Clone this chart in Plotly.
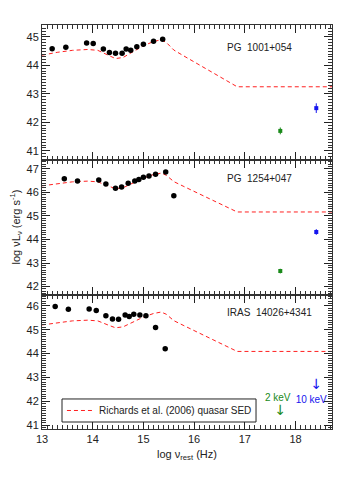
import plotly.graph_objects as go

# ---------------- data ----------------
# Richards et al. (2006) mean quasar SED template (relative to value at log nu = 13)
sed_lognu = [13.0, 13.3, 13.6, 13.9, 14.1, 14.3, 14.45, 14.6, 14.8, 15.0, 15.2, 15.35, 15.45, 15.6, 15.8, 16.2, 16.6, 16.85, 18.72]
sed_rel   = [0.0, 0.10, 0.17, 0.20, 0.17, 0.00, -0.12, -0.08, 0.12, 0.33, 0.48, 0.54, 0.45, 0.18, -0.03, -0.45, -0.87, -1.11, -1.11]
sed_norm  = [44.36, 46.28, 45.20]   # normalisation per panel

names = ["PG  1001+054", "PG  1254+047", "IRAS  14026+4341"]

p1_x = [13.20, 13.47, 13.88, 14.01, 14.21, 14.33, 14.45, 14.58, 14.66, 14.75, 14.87, 15.00, 15.20, 15.38]
p1_y = [44.59, 44.64, 44.79, 44.77, 44.58, 44.45, 44.43, 44.43, 44.58, 44.53, 44.66, 44.74, 44.85, 44.92]

p2_x = [13.44, 13.70, 14.12, 14.26, 14.45, 14.57, 14.70, 14.83, 14.91, 15.00, 15.11, 15.24, 15.44, 15.60]
p2_y = [46.58, 46.49, 46.53, 46.36, 46.18, 46.23, 46.39, 46.49, 46.55, 46.65, 46.70, 46.77, 46.87, 45.86]

p3_x = [13.26, 13.52, 13.93, 14.07, 14.26, 14.39, 14.51, 14.64, 14.72, 14.81, 14.93, 15.05, 15.24, 15.43]
p3_y = [45.97, 45.86, 45.87, 45.80, 45.59, 45.45, 45.44, 45.62, 45.55, 45.65, 45.62, 45.58, 45.09, 44.20]

# X-ray: 2 keV (green) and 10 keV (blue)
xray_x = [17.70, 18.41]
p1_xray_y   = [41.70, 42.50]
p1_xray_err = [0.12, 0.17]
p2_xray_y   = [42.66, 44.32]
p2_xray_err = [0.10, 0.12]
# panel 3: upper limits (arrow midpoints)
p3_ul_y = [41.59, 42.65]
xray_labels = ["2 keV", "10 keV"]
xray_label_y = [42.11, 42.03]
xray_label_x = [17.65, 18.31]

yranges = [[40.68, 45.42], [41.65, 47.38], [40.84, 46.46]]
title_y = [44.62, 46.60, 45.72]
legend_label = "Richards et al. (2006) quasar SED"

# ---------------- figure ----------------
FONT = "Liberation Sans, Arial, sans-serif"
TXT = "#222222"
GREEN = "#1a8a1a"
BLUE = "#1515ee"
RED = "#ff2020"

fig = go.Figure()
domains = [[0.666, 1.0], [0.332, 0.666], [0.0, 0.332]]
pts = [(p1_x, p1_y), (p2_x, p2_y), (p3_x, p3_y)]

for i in range(3):
    xa = "x" if i == 0 else f"x{i+1}"
    ya = "y" if i == 0 else f"y{i+1}"
    fig.add_trace(go.Scatter(
        x=sed_lognu, y=[v + sed_norm[i] for v in sed_rel], mode="lines",
        line=dict(color=RED, width=1, dash="4px,3px"),
        name=legend_label, showlegend=False,
        xaxis=xa, yaxis=ya))
    fig.add_trace(go.Scatter(
        x=pts[i][0], y=pts[i][1], mode="markers",
        marker=dict(color="black", size=5.5), showlegend=False,
        xaxis=xa, yaxis=ya))

for i, (yy, ee) in enumerate([(p1_xray_y, p1_xray_err), (p2_xray_y, p2_xray_err)]):
    xa = "x" if i == 0 else f"x{i+1}"
    ya = "y" if i == 0 else f"y{i+1}"
    for k, col in enumerate([GREEN, BLUE]):
        fig.add_trace(go.Scatter(
            x=[xray_x[k]], y=[yy[k]], mode="markers",
            marker=dict(color=col, size=4, symbol="square"),
            error_y=dict(type="data", array=[ee[k]], color=col, thickness=1, width=0),
            showlegend=False, xaxis=xa, yaxis=ya))

# panel 3 upper limit arrows and labels
for k, col in enumerate([GREEN, BLUE]):
    fig.add_trace(go.Scatter(
        x=[xray_x[k]], y=[p3_ul_y[k]], mode="text", text=["↓"],
        textfont=dict(color=col, size=14, family="DejaVu Sans"),
        showlegend=False, xaxis="x3", yaxis="y3"))
    fig.add_trace(go.Scatter(
        x=[xray_label_x[k]], y=[xray_label_y[k]], mode="text", text=[xray_labels[k]],
        textfont=dict(color=col, size=10, family=FONT),
        showlegend=False, xaxis="x3", yaxis="y3"))

layout = dict(
    width=342, height=492,
    margin=dict(l=34, r=18, t=17, b=71),
    paper_bgcolor="white", plot_bgcolor="white",
    font=dict(family=FONT, color=TXT),
    showlegend=False,
)
fig.update_layout(**layout)

for i in range(3):
    xa_anchor = "y" if i == 0 else f"y{i+1}"
    ya_anchor = "x" if i == 0 else f"x{i+1}"
    xupd = dict(range=[13, 18.72], showticklabels=(i == 2), anchor=xa_anchor, domain=[0, 1])
    yupd = dict(range=yranges[i], anchor=ya_anchor, domain=domains[i])
    if i == 0:
        fig.update_layout(xaxis=xupd, yaxis=yupd)
    else:
        fig.update_layout(**{f"xaxis{i+1}": xupd, f"yaxis{i+1}": yupd})

fig.update_xaxes(showline=True, linecolor="#333333", linewidth=1, mirror="allticks",
                 tickmode="linear", tick0=13, dtick=1,
                 ticks="inside", ticklen=8, tickwidth=1.2, tickcolor="#222222",
                 showgrid=False, zeroline=False,
                 tickfont=dict(family=FONT, size=11, color=TXT),
                 minor=dict(ticks="inside", ticklen=4, tickwidth=1, dtick=0.1,
                            tickcolor="#333333", showgrid=False))
fig.update_yaxes(showline=True, linecolor="#333333", linewidth=1, mirror="allticks",
                 tickmode="linear", tick0=40, dtick=1,
                 ticks="inside", ticklen=8, tickwidth=1.2, tickcolor="#222222",
                 showgrid=False, zeroline=False,
                 tickfont=dict(family=FONT, size=11, color=TXT),
                 minor=dict(ticks="inside", ticklen=4, tickwidth=1, dtick=0.1,
                            tickcolor="#333333", showgrid=False))

for i in range(3):
    xa = "x" if i == 0 else f"x{i+1}"
    ya = "y" if i == 0 else f"y{i+1}"
    fig.add_annotation(x=16.61, y=title_y[i], xref=xa, yref=ya, text=names[i],
                       showarrow=False, xanchor="left", yanchor="middle",
                       font=dict(size=10, family=FONT, color=TXT))

# legend box (drawn in paper coordinates)
fig.add_shape(type="rect", xref="paper", yref="paper", x0=0.069, x1=0.738, y0=0.0173, y1=0.0743,
              line=dict(color="#222222", width=1), fillcolor="white", layer="above")
fig.add_shape(type="line", xref="paper", yref="paper", x0=0.086, x1=0.176, y0=0.0458, y1=0.0458,
              line=dict(color=RED, width=1, dash="4px,3px"), layer="above")
fig.add_annotation(x=0.19, y=0.0458, xref="paper", yref="paper", text=legend_label,
                   showarrow=False, xanchor="left", yanchor="middle",
                   font=dict(size=10, family=FONT, color=TXT))

fig.add_annotation(x=-0.088, y=0.5, xref="paper", yref="paper",
                   text="log νL<sub>ν</sub> (erg s<sup>-1</sup>)", textangle=-90,
                   showarrow=False, xanchor="center", yanchor="middle",
                   font=dict(size=11, family=FONT, color=TXT))
fig.add_annotation(x=0.5, y=-0.065, xref="paper", yref="paper",
                   text="log ν<sub>rest</sub> (Hz)",
                   showarrow=False, xanchor="center", yanchor="middle",
                   font=dict(size=11, family=FONT, color=TXT))

fig.write_html("out.html")
